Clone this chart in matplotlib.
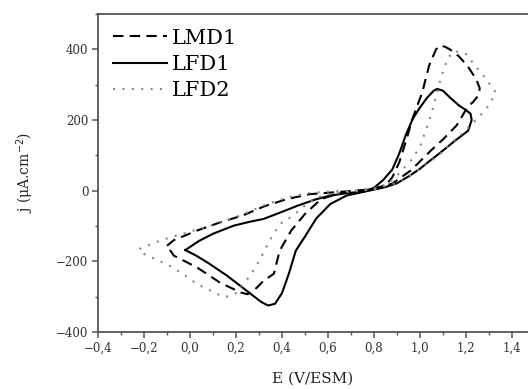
import matplotlib
matplotlib.use("Agg")
import matplotlib.pyplot as plt
from matplotlib.ticker import FuncFormatter, MultipleLocator

plt.rcParams['font.family'] = ['DejaVu Serif']

# LMD1 (dashed) - closed loop, starting at the negative vertex
lmd1_E = [-0.10, -0.07, 0.03, 0.13, 0.23, 0.32, 0.42, 0.52, 0.62, 0.72, 0.80, 0.85, 0.88, 0.91,
          0.94, 0.97, 1.01, 1.04, 1.07, 1.09, 1.11, 1.13, 1.17, 1.21, 1.245, 1.26, 1.255, 1.23,
          1.21, 1.16, 1.10, 1.05, 0.96, 0.88, 0.80, 0.72, 0.64, 0.57, 0.50, 0.44, 0.39, 0.365,
          0.32, 0.29, 0.25, 0.22, 0.13, 0.03, -0.07, -0.10]
lmd1_j = [-156, -140, -113, -90, -70, -45, -24, -10, -5, 0, 5, 15, 38, 80,
          142, 208, 278, 354, 400, 411, 407, 400, 380, 350, 315, 290, 270, 250,
          240, 185, 145, 115, 57, 20, 5, -3, -9, -24, -66, -113, -170, -235,
          -255, -275, -293, -288, -260, -217, -184, -156]

# LFD1 (solid)
lfd1_E = [-0.02, 0.04, 0.10, 0.19, 0.26, 0.32, 0.40, 0.47, 0.55, 0.61, 0.68, 0.75, 0.80, 0.84,
          0.88, 0.91, 0.94, 0.97, 1.00, 1.03, 1.06, 1.075, 1.10, 1.13, 1.17, 1.20, 1.22, 1.225,
          1.21, 1.19, 1.15, 1.12, 1.08, 1.04, 1.00, 0.95, 0.90, 0.85, 0.80, 0.75, 0.68, 0.61,
          0.55, 0.50, 0.46, 0.43, 0.40, 0.37, 0.34, 0.31, 0.28, 0.23, 0.16, 0.08, 0.03, -0.02]
lfd1_j = [-168, -142, -122, -99, -88, -80, -60, -42, -24, -14, -7, -3, 8, 30,
          60, 105, 160, 205, 235, 262, 283, 288, 283, 264, 241, 228, 218, 200,
          170, 160, 140, 124, 103, 83, 62, 40, 21, 10, 3, -4, -14, -38,
          -78, -130, -170, -235, -290, -320, -325, -315, -300, -275, -240, -205, -185, -168]

# LFD2 (dotted, grey)
lfd2_E = [-0.22, -0.15, -0.09, -0.03, 0.09, 0.20, 0.32, 0.42, 0.51, 0.62, 0.72, 0.80, 0.86, 0.91,
          0.96, 1.00, 1.02, 1.04, 1.06, 1.09, 1.12, 1.15, 1.20, 1.24, 1.29, 1.33, 1.30, 1.25,
          1.19, 1.14, 1.08, 1.01, 0.95, 0.88, 0.80, 0.72, 0.62, 0.55, 0.50, 0.45, 0.39, 0.35,
          0.32, 0.29, 0.25, 0.20, 0.15, 0.09, 0.03, -0.03, -0.09, -0.20, -0.22]
lfd2_j = [-165, -146, -133, -122, -99, -75, -42, -20, -7, -2, 0, 5, 20, 49,
          85, 123, 161, 198, 241, 316, 375, 395, 387, 354, 314, 278, 241, 204,
          165, 137, 99, 66, 40, 18, 5, -2, -8, -19, -42, -70, -95, -137,
          -175, -212, -250, -290, -302, -283, -264, -236, -212, -179, -165]

fig = plt.figure(figsize=(5.28, 3.89), dpi=100)
ax = fig.add_axes([0.1856, 0.1465, 0.8144, 0.8175])

ax.plot(lmd1_E, lmd1_j, color='black', lw=1.5, ls=(0, (5, 3)), label='LMD1')
ax.plot(lfd1_E, lfd1_j, color='black', lw=1.5, ls='-', label='LFD1')
ax.plot(lfd2_E, lfd2_j, color='#888888', lw=1.5, ls=(0, (1, 3.5)), label='LFD2')

ax.set_xlim(-0.4, 1.47)
ax.set_ylim(-400, 500)
ax.xaxis.set_major_locator(MultipleLocator(0.2))
ax.xaxis.set_minor_locator(MultipleLocator(0.1))
ax.yaxis.set_major_locator(MultipleLocator(200))
ax.yaxis.set_minor_locator(MultipleLocator(100))


def fmt_x(v, pos):
    s = f"{abs(v):.1f}".replace('.', ',')
    return ('\u2212' + s) if v < -1e-9 else s


def fmt_y(v, pos):
    return ('\u2212' + f"{abs(v):.0f}") if v < 0 else f"{v:.0f}"


ax.xaxis.set_major_formatter(FuncFormatter(fmt_x))
ax.yaxis.set_major_formatter(FuncFormatter(fmt_y))

sc = '#555555'
for side in ['left', 'bottom', 'top']:
    ax.spines[side].set_color(sc)
    ax.spines[side].set_linewidth(1.3)
ax.spines['right'].set_visible(False)
ax.tick_params(which='major', direction='out', length=4, width=1.1, color=sc,
               labelsize=8.5, labelcolor='#333333', pad=3)
ax.tick_params(which='minor', direction='out', length=2.5, width=1.0, color=sc)
ax.tick_params(top=False, right=False)

ax.set_xlabel('E (V/ESM)', fontsize=11, color='#222222', labelpad=12)
ax.set_ylabel('j (\u03bcA.cm$^{-2}$)', fontsize=10, color='#222222', labelpad=14)

ax.legend(loc='upper left', frameon=False, fontsize=15, handlelength=2.6,
          handletextpad=0.25, labelspacing=0.35, borderaxespad=0.3,
          bbox_to_anchor=(0.0, 1.0))

fig.savefig('out.png', dpi=100)
